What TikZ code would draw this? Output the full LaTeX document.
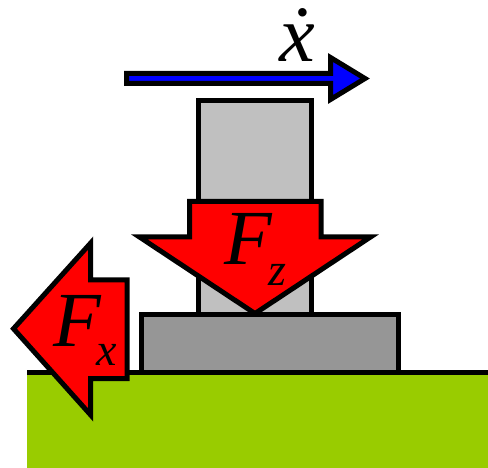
\documentclass[tikz,border=0pt]{standalone}
\usepackage{fontspec}
\setmainfont{Liberation Serif}
\definecolor{ground}{HTML}{99CC00}
\definecolor{slider}{HTML}{C0C0C0}
\definecolor{footing}{HTML}{969696}
\begin{document}
\begin{tikzpicture}[
x=1pt, y=-1pt,
outline/.style={draw=black, line width=5pt, miter limit=10},
force/.style={outline, fill=red},
symbol/.style={anchor=base, inner sep=0pt, font=\fontsize{78}{78}\selectfont\itshape},
index/.style={anchor=base, inner sep=0pt, font=\fontsize{46}{46}\selectfont\itshape}
]
\useasboundingbox (0,0) rectangle (488,468);

% Suelo
\fill[ground] (27,372) rectangle (488,468);
\draw[line width=5pt] (27,372) -- (488,372);

% Bloques
\draw[outline, fill=slider] (198.5,101) rectangle (311,315);
\draw[outline, fill=footing] (141,314.5) rectangle (398,372);

% Velocidad
\draw[outline, fill=blue] (126.5,73.5) -- (330.5,73.5) -- (330.5,57.5) -- (365,78.5)
  -- (330.5,99.5) -- (330.5,83.5) -- (126.5,83.5) -- cycle;
\node[symbol, font=\fontsize{80}{80}\selectfont\itshape] (velocidad) at (297.5,62) {ẋ};

% Fuerza vertical
\draw[force] (189.5,201.5) -- (321,201.5) -- (321,237) -- (370.5,237) -- (255,313.5)
  -- (139.5,237) -- (189.5,237) -- cycle;
\node[symbol] (fz) at (248,265) {F};
\node[index] (fz_index) at (277,286) {z};

% Fuerza horizontal
\draw[force] (127,280) -- (127,378.5) -- (90.7,378.5) -- (90.7,415) -- (13.5,328.7)
  -- (90.7,243) -- (90.7,280) -- cycle;
\node[symbol] (fx) at (77.5,346.7) {F};
\node[index] (fx_index) at (107,366) {x};

\end{tikzpicture}
\end{document}
